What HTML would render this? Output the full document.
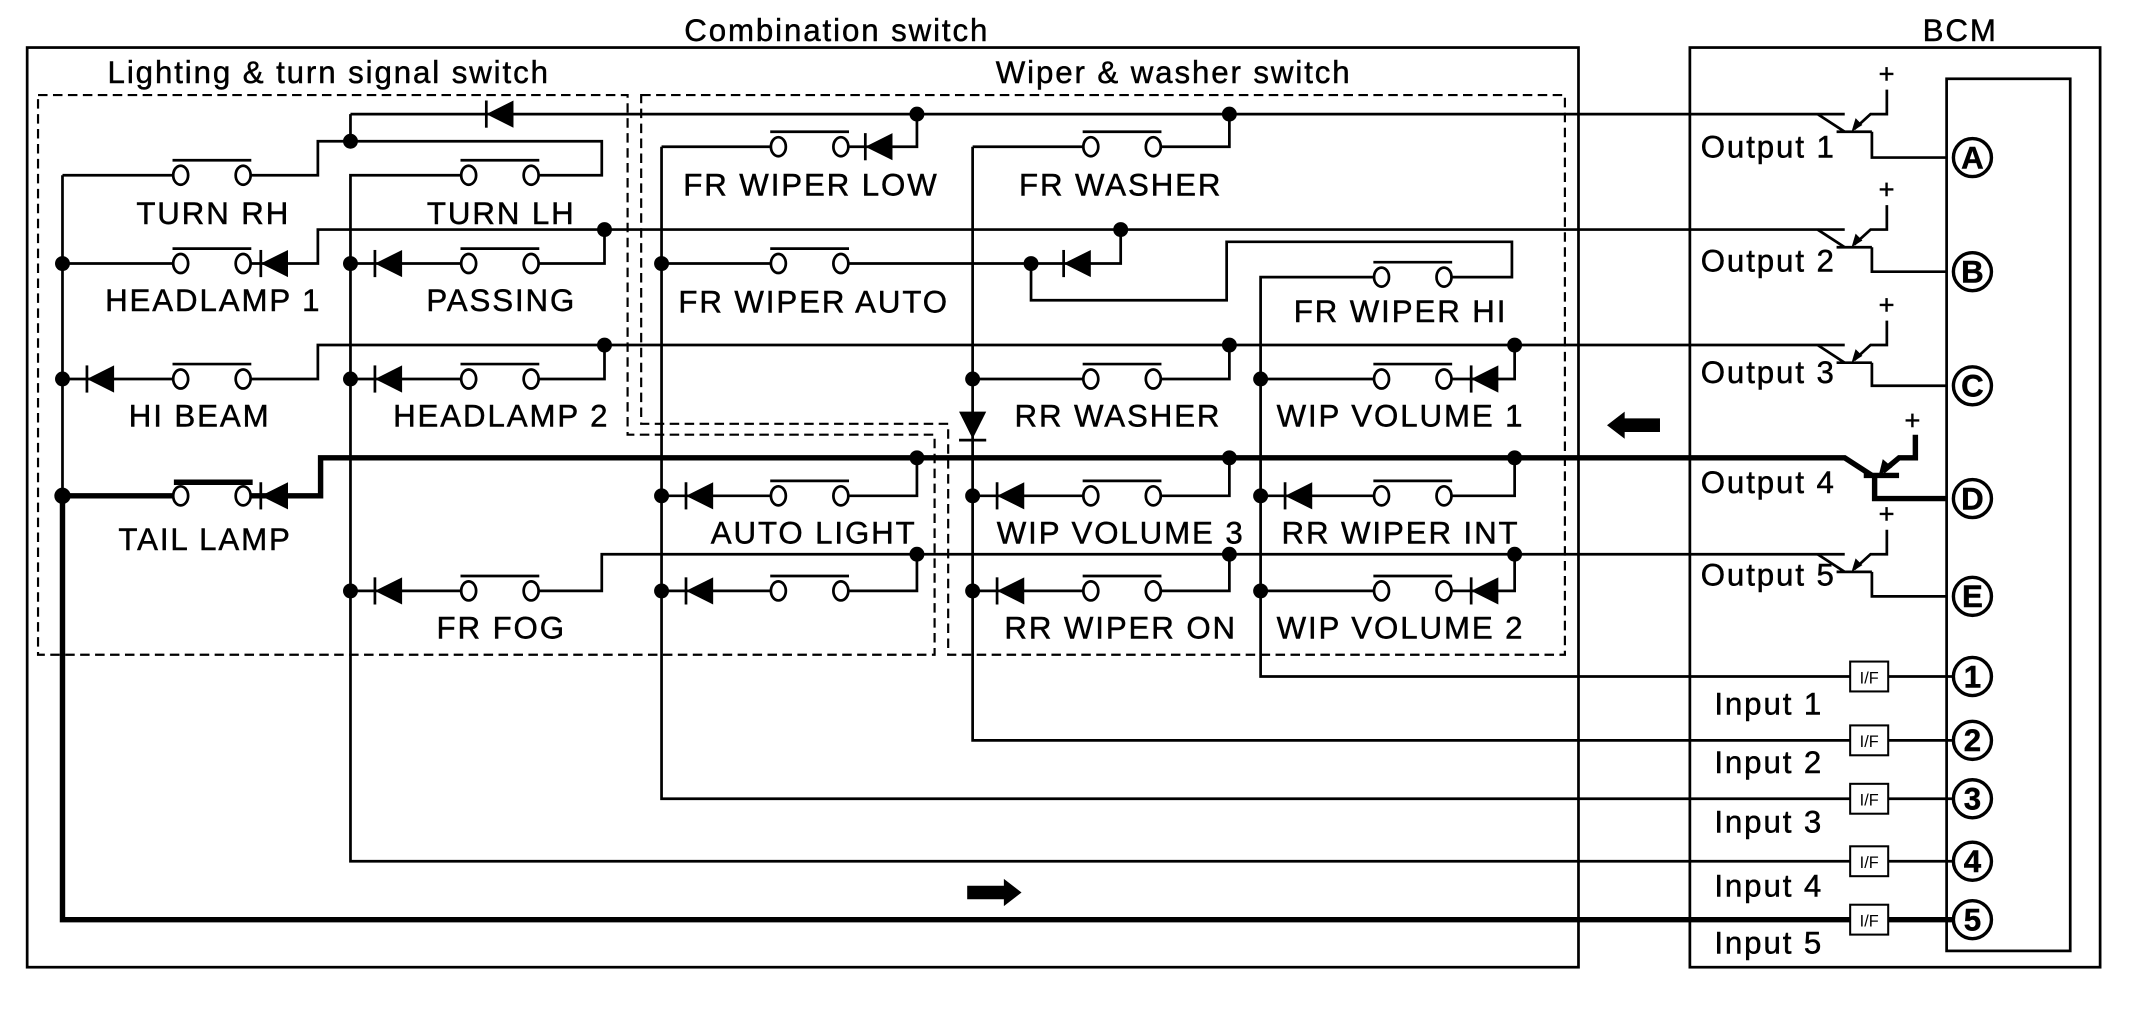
<!DOCTYPE html>
<html><head><meta charset="utf-8"><style>
html,body{margin:0;padding:0;background:#fff}
svg{display:block}
text{font-family:"Liberation Sans",Arial,sans-serif;font-size:23px;letter-spacing:1.4px;fill:#000;stroke:#000;stroke-width:0.35}
</style></head><body>
<svg width="2130" height="1021" viewBox="0 0 1568 751.6" preserveAspectRatio="none" xmlns="http://www.w3.org/2000/svg">
<defs>
<g id="sw"><ellipse cx="0" cy="0" rx="5.5" ry="7" fill="#fff" stroke="#000" stroke-width="2"/><ellipse cx="46" cy="0" rx="5.5" ry="7" fill="#fff" stroke="#000" stroke-width="2"/><line x1="-6" y1="-11" x2="52" y2="-11" stroke="#000" stroke-width="2"/></g>
<g id="dl"><polygon points="0,0 20,-10 20,10" fill="#000"/><line x1="0" y1="-10" x2="0" y2="10" stroke="#000" stroke-width="2"/></g>
<g id="tr"><path d="M-20,0 L0,13" fill="none" stroke="#000" stroke-width="2"/><line x1="-6" y1="13" x2="20" y2="13" stroke="#000" stroke-width="2"/><path d="M7,11 L19,0 L31,0 L31,-18" fill="none" stroke="#000" stroke-width="2"/><polygon points="5,13 8,3 13,8" fill="#000"/><text x="25" y="-23" style="font-size:20px;letter-spacing:0">+</text></g>
</defs>
<rect width="1568" height="752" fill="#fff"/>
<g fill="none" stroke="#000" stroke-width="2">
<rect x="20" y="35" width="1142" height="677"/>
<rect x="1244" y="35" width="302" height="677"/>
<rect x="1433" y="58" width="91" height="642"/>
</g>
<g fill="none" stroke="#000" stroke-width="1.6" stroke-dasharray="7,4">
<path d="M28,70 H462 V320 H688 V482 H28 Z"/>
<path d="M472,70 H1152 V482 H698 V312 H472 Z"/>
</g>
<text x="616" y="30" text-anchor="middle">Combination switch</text>
<text x="1443" y="30" text-anchor="middle">BCM</text>
<text x="242" y="61" text-anchor="middle">Lighting &amp; turn signal switch</text>
<text x="864" y="61" text-anchor="middle">Wiper &amp; washer switch</text>

<g fill="none" stroke="#000" stroke-width="2">
<path d="M46,129 V365"/>
<path d="M46,129 H127"/>
<path d="M185,129 H234 V104 H443 V129 H397"/>
<path d="M258,84 V104"/>
<path d="M339,129 H258 V634 H1362"/>
<path d="M46,194 H127"/><path d="M185,194 H234 V169 H1358"/>
<path d="M445,169 V194 H397"/><path d="M339,194 H258"/>
<path d="M46,279 H127"/><path d="M185,279 H234 V254 H1358"/>
<path d="M445,254 V279 H397"/><path d="M339,279 H258"/>
<path d="M258,435 H339"/><path d="M397,435 H443 V408 H1358"/>
<path d="M258,84 H1358"/>
<path d="M487,108 H567"/><path d="M487,108 V588 H1362"/>
<path d="M625,108 H675 V84"/>
<path d="M716,108 V545 H1362"/><path d="M716,108 H797"/><path d="M855,108 H905 V84"/>
<path d="M487,194 H567"/><path d="M625,194 H759 V221 H903 V178 H1113 V204 H1069"/>
<path d="M759,194 H825 V169"/>
<path d="M1011,204 H928 V498 H1362"/>
<path d="M716,279 H797"/><path d="M855,279 H905 V254"/>
<path d="M928,279 H1011"/><path d="M1069,279 H1115 V254"/>
<path d="M487,365 H567"/><path d="M625,365 H675 V337"/>
<path d="M716,365 H797"/><path d="M855,365 H905 V337"/>
<path d="M928,365 H1011"/><path d="M1069,365 H1115 V337"/>
<path d="M487,435 H567"/><path d="M625,435 H675 V408"/>
<path d="M716,435 H797"/><path d="M855,435 H905 V408"/>
<path d="M928,435 H1011"/><path d="M1069,435 H1115 V408"/>
<path d="M1378,97 V116 H1433"/><path d="M1378,182 V200 H1433"/><path d="M1378,267 V284 H1433"/><path d="M1378,421 V439 H1433"/>
<path d="M1390,498 H1438"/><path d="M1390,545 H1438"/><path d="M1390,588 H1438"/><path d="M1390,634 H1438"/>
</g>
<g fill="none" stroke="#000" stroke-width="4">
<path d="M46,365 V677 H1362"/>
<path d="M1390,677 H1438"/>
<path d="M46,365 H127"/>
<path d="M185,365 H236 V337 H1358 L1378,350"/>
<line x1="1372" y1="350" x2="1398" y2="350"/>
<path d="M1380,350 V367 H1433"/>
<path d="M1386,347 L1398,337 L1410,337 L1410,320"/>
<line x1="128" y1="355" x2="186" y2="355"/>
</g>
<polygon points="1383,350 1386,338 1393,344" fill="#000"/>
<text x="1402" y="316" style="font-size:20px;letter-spacing:0">+</text>

<use href="#sw" x="133" y="129"/><use href="#sw" x="345" y="129"/>
<use href="#sw" x="133" y="194"/><use href="#sw" x="345" y="194"/>
<use href="#sw" x="133" y="279"/><use href="#sw" x="345" y="279"/>
<ellipse cx="133" cy="365" rx="5.5" ry="7" fill="#fff" stroke="#000" stroke-width="2"/><ellipse cx="179" cy="365" rx="5.5" ry="7" fill="#fff" stroke="#000" stroke-width="2"/>
<use href="#sw" x="345" y="435"/>
<use href="#sw" x="573" y="108"/><use href="#sw" x="803" y="108"/>
<use href="#sw" x="573" y="194"/><use href="#sw" x="1017" y="204"/>
<use href="#sw" x="803" y="279"/><use href="#sw" x="1017" y="279"/>
<use href="#sw" x="573" y="365"/><use href="#sw" x="803" y="365"/><use href="#sw" x="1017" y="365"/>
<use href="#sw" x="573" y="435"/><use href="#sw" x="803" y="435"/><use href="#sw" x="1017" y="435"/>

<use href="#dl" x="358" y="84"/>
<use href="#dl" x="192" y="194"/><use href="#dl" x="276" y="194"/>
<use href="#dl" x="64" y="279"/><use href="#dl" x="276" y="279"/>
<use href="#dl" x="192" y="365"/>
<use href="#dl" x="276" y="435"/>
<use href="#dl" x="637" y="108"/>
<use href="#dl" x="783" y="194"/>
<use href="#dl" x="1083" y="279"/>
<use href="#dl" x="505" y="365"/><use href="#dl" x="734" y="365"/><use href="#dl" x="946" y="365"/>
<use href="#dl" x="505" y="435"/><use href="#dl" x="734" y="435"/><use href="#dl" x="1083" y="435"/>
<polygon points="706,303 726,303 716,323" fill="#000"/><line x1="706" y1="324" x2="726" y2="324" stroke="#000" stroke-width="2"/>

<g fill="#000">
<circle cx="258" cy="104" r="5.5"/><circle cx="675" cy="84" r="5.5"/><circle cx="905" cy="84" r="5.5"/>
<circle cx="46" cy="194" r="5.5"/><circle cx="258" cy="194" r="5.5"/><circle cx="445" cy="169" r="5.5"/>
<circle cx="46" cy="279" r="5.5"/><circle cx="258" cy="279" r="5.5"/><circle cx="445" cy="254" r="5.5"/>
<circle cx="46" cy="365" r="6"/><circle cx="258" cy="435" r="5.5"/>
<circle cx="487" cy="194" r="5.5"/><circle cx="759" cy="194" r="5.5"/><circle cx="825" cy="169" r="5.5"/>
<circle cx="716" cy="279" r="5.5"/><circle cx="905" cy="254" r="5.5"/><circle cx="928" cy="279" r="5.5"/><circle cx="1115" cy="254" r="5.5"/>
<circle cx="675" cy="337" r="5.5"/><circle cx="905" cy="337" r="5.5"/><circle cx="1115" cy="337" r="5.5"/>
<circle cx="487" cy="365" r="5.5"/><circle cx="716" cy="365" r="5.5"/><circle cx="928" cy="365" r="5.5"/>
<circle cx="675" cy="408" r="5.5"/><circle cx="905" cy="408" r="5.5"/><circle cx="1115" cy="408" r="5.5"/>
<circle cx="487" cy="435" r="5.5"/><circle cx="716" cy="435" r="5.5"/><circle cx="928" cy="435" r="5.5"/>
</g>

<use href="#tr" x="1358" y="84"/><use href="#tr" x="1358" y="169"/><use href="#tr" x="1358" y="254"/><use href="#tr" x="1358" y="408"/>

<polygon points="1183,313 1196,303 1196,308 1222,308 1222,318 1196,318 1196,323" fill="#000"/>
<polygon points="752,657 739,647 739,652 712,652 712,662 739,662 739,667" fill="#000"/>

<g text-anchor="middle">
<text x="157" y="165">TURN RH</text><text x="369" y="165">TURN LH</text>
<text x="157" y="229">HEADLAMP 1</text><text x="369" y="229">PASSING</text>
<text x="147" y="314">HI BEAM</text><text x="369" y="314">HEADLAMP 2</text>
<text x="151" y="405">TAIL LAMP</text><text x="369" y="470">FR FOG</text>
<text x="597" y="144">FR WIPER LOW</text><text x="825" y="144">FR WASHER</text>
<text x="599" y="230">FR WIPER AUTO</text><text x="1031" y="237">FR WIPER HI</text>
<text x="823" y="314">RR WASHER</text><text x="1031" y="314">WIP VOLUME 1</text>
<text x="599" y="400">AUTO LIGHT</text><text x="825" y="400">WIP VOLUME 3</text><text x="1031" y="400">RR WIPER INT</text>
<text x="825" y="470">RR WIPER ON</text><text x="1031" y="470">WIP VOLUME 2</text>
</g>
<g>
<text x="1252" y="116">Output 1</text><text x="1252" y="200">Output 2</text><text x="1252" y="282">Output 3</text><text x="1252" y="363">Output 4</text><text x="1252" y="431">Output 5</text>
<text x="1262" y="526">Input 1</text><text x="1262" y="569">Input 2</text><text x="1262" y="613">Input 3</text><text x="1262" y="660">Input 4</text><text x="1262" y="702">Input 5</text>
</g>
<g fill="#fff" stroke="#000" stroke-width="1.5">
<rect x="1362" y="487" width="28" height="22"/><rect x="1362" y="534" width="28" height="22"/><rect x="1362" y="577" width="28" height="22"/><rect x="1362" y="623" width="28" height="22"/><rect x="1362" y="666" width="28" height="22"/>
</g>
<g text-anchor="middle">
<text x="1376" y="503" style="font-size:12px;letter-spacing:0;stroke-width:0">I/F</text><text x="1376" y="550" style="font-size:12px;letter-spacing:0;stroke-width:0">I/F</text><text x="1376" y="593" style="font-size:12px;letter-spacing:0;stroke-width:0">I/F</text><text x="1376" y="639" style="font-size:12px;letter-spacing:0;stroke-width:0">I/F</text><text x="1376" y="682" style="font-size:12px;letter-spacing:0;stroke-width:0">I/F</text>
</g>
<g fill="#fff" stroke="#000" stroke-width="2.5">
<circle cx="1452" cy="116" r="14"/><circle cx="1452" cy="200" r="14"/><circle cx="1452" cy="284" r="14"/><circle cx="1452" cy="367" r="14"/><circle cx="1452" cy="439" r="14"/>
<circle cx="1452" cy="498" r="14"/><circle cx="1452" cy="545" r="14"/><circle cx="1452" cy="588" r="14"/><circle cx="1452" cy="634" r="14"/><circle cx="1452" cy="677" r="14"/>
</g>
<g text-anchor="middle">
<text x="1452" y="124" style="font-weight:bold;letter-spacing:0">A</text><text x="1452" y="208" style="font-weight:bold;letter-spacing:0">B</text><text x="1452" y="292" style="font-weight:bold;letter-spacing:0">C</text><text x="1452" y="375" style="font-weight:bold;letter-spacing:0">D</text><text x="1452" y="447" style="font-weight:bold;letter-spacing:0">E</text>
<text x="1452" y="506" style="font-weight:bold;letter-spacing:0">1</text><text x="1452" y="553" style="font-weight:bold;letter-spacing:0">2</text><text x="1452" y="596" style="font-weight:bold;letter-spacing:0">3</text><text x="1452" y="642" style="font-weight:bold;letter-spacing:0">4</text><text x="1452" y="685" style="font-weight:bold;letter-spacing:0">5</text>
</g>
</svg>
</body></html>
